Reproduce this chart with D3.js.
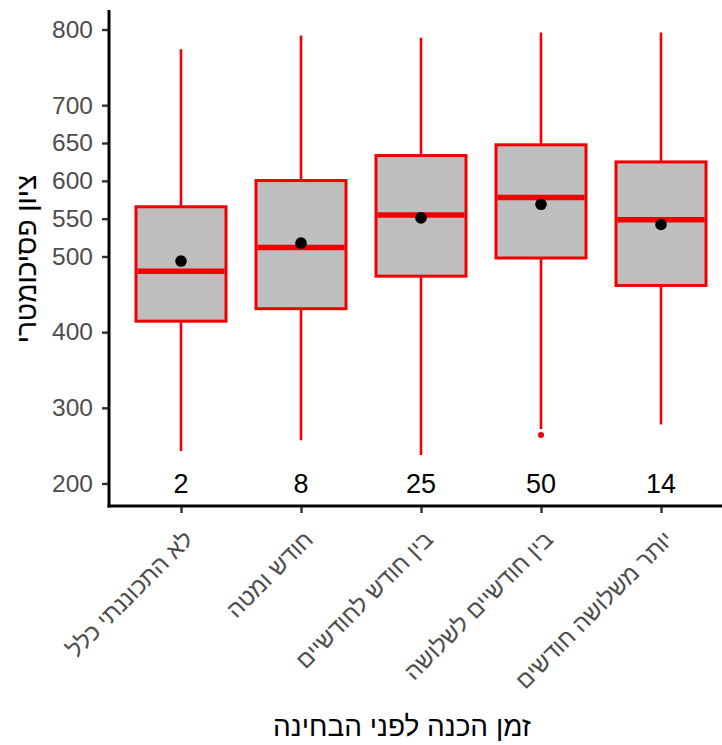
<!DOCTYPE html>
<html>
<head>
<meta charset="utf-8">
<script src="https://cdn.jsdelivr.net/npm/d3@7"></script>
<style>
  html, body { margin: 0; padding: 0; background: #fff; }
  svg { display: block; font-family: "Liberation Sans", Arial, sans-serif; }
</style>
</head>
<body>
<svg id="chart" width="722" height="745"></svg>
<script>
// ---- data ----
const categories = ["לא התכוננתי כלל", "חודש ומטה", "בין חודש לחודשיים", "בין חודשיים לשלושה", "יותר משלושה חודשים"];
const counts = [2, 8, 25, 50, 14];
const whiskerLow = [243, 257, 237.5, 272, 278];
const q1 = [414.5, 431, 474, 498, 461.7];
const medians = [480.6, 512, 555, 578, 548.4];
const q3 = [565.7, 600.4, 633.4, 647.6, 625];
const whiskerHigh = [774, 792, 789, 796, 796];
const means = [494, 517.6, 551, 569, 542.3];
const outliers = [[], [], [], [264], []];
const yTicks = [200, 300, 400, 500, 550, 600, 650, 700, 800];
const countLabelY = 200;
const yTitle = "ציון פסיכומטרי";
const xTitle = "זמן הכנה לפני הבחינה";

// ---- layout ----
const svg = d3.select("#chart");
const panel = { left: 109, right: 733, top: 10, bottom: 506 };

const lo = Math.min(countLabelY, d3.min(whiskerLow));
const hi = d3.max(whiskerHigh);
const pad = (hi - lo) * 0.05;
const y = d3.scaleLinear().domain([lo - pad, hi + pad]).range([panel.bottom, panel.top]);
const x = d3.scaleLinear().domain([0.4, categories.length + 0.6]).range([panel.left, panel.right]);
const half = 0.375;

const boxes = categories.map((c, i) => ({
  c, i: i + 1, n: counts[i], lo: whiskerLow[i], q1: q1[i], med: medians[i],
  q3: q3[i], hi: whiskerHigh[i], mean: means[i], out: outliers[i]
}));

const red = "#f00000";
const g = svg.append("g");

// whiskers
g.selectAll(".wh").data(boxes).enter().append("line")
  .attr("x1", d => x(d.i)).attr("x2", d => x(d.i))
  .attr("y1", d => y(d.lo)).attr("y2", d => y(d.hi))
  .attr("stroke", red).attr("stroke-width", 2.6);

// boxes
g.selectAll(".box").data(boxes).enter().append("rect")
  .attr("x", d => x(d.i - half)).attr("width", d => x(d.i + half) - x(d.i - half))
  .attr("y", d => y(d.q3)).attr("height", d => y(d.q1) - y(d.q3))
  .attr("fill", "#bebebe").attr("stroke", red).attr("stroke-width", 3);

// medians
g.selectAll(".med").data(boxes).enter().append("line")
  .attr("x1", d => x(d.i - half) + 1.5).attr("x2", d => x(d.i + half) - 1.5)
  .attr("y1", d => y(d.med)).attr("y2", d => y(d.med))
  .attr("stroke", red).attr("stroke-width", 5.5);

// outliers
boxes.forEach(d => {
  g.selectAll(null).data(d.out).enter().append("circle")
    .attr("cx", x(d.i)).attr("cy", v => y(v)).attr("r", 3)
    .attr("fill", red);
});

// means
g.selectAll(".mean").data(boxes).enter().append("circle")
  .attr("cx", d => x(d.i)).attr("cy", d => y(d.mean)).attr("r", 5.8)
  .attr("fill", "#000");

// counts
g.selectAll(".cnt").data(boxes).enter().append("text")
  .attr("x", d => x(d.i)).attr("y", y(countLabelY)).attr("dy", "0.36em")
  .attr("text-anchor", "middle").attr("font-size", 27).attr("fill", "#000")
  .text(d => d.n);

// y axis
const yAxis = svg.append("g").attr("transform", `translate(${panel.left},0)`)
  .call(d3.axisLeft(y).tickValues(yTicks).tickSize(7).tickPadding(9).tickFormat(d3.format("d")));
yAxis.select(".domain").remove();
yAxis.selectAll(".tick line").attr("stroke", "#333").attr("stroke-width", 2.4);
yAxis.selectAll(".tick text").attr("font-size", 24.5).attr("fill", "#4d4d4d")
  .attr("font-family", "Liberation Sans, Arial, sans-serif");

// x axis
const xAxis = svg.append("g").attr("transform", `translate(0,${panel.bottom})`)
  .call(d3.axisBottom(x).tickValues(d3.range(1, categories.length + 1)).tickSize(7)
    .tickFormat(i => categories[i - 1]));
xAxis.select(".domain").remove();
xAxis.selectAll(".tick line").attr("stroke", "#333").attr("stroke-width", 2.4);
xAxis.selectAll(".tick text")
  .attr("font-size", 23.5).attr("fill", "#4d4d4d")
  .attr("font-family", "Liberation Sans, Arial, sans-serif")
  .attr("text-anchor", "end").attr("x", 0).attr("y", 0).attr("dy", 0)
  .attr("transform", "translate(13,35) rotate(-45)");

// axis lines
svg.append("line").attr("x1", panel.left).attr("x2", panel.left)
  .attr("y1", panel.top).attr("y2", panel.bottom + 1.5)
  .attr("stroke", "#000").attr("stroke-width", 3);
svg.append("line").attr("x1", panel.left - 1.5).attr("x2", panel.right)
  .attr("y1", panel.bottom).attr("y2", panel.bottom)
  .attr("stroke", "#000").attr("stroke-width", 3);

// titles
svg.append("text").attr("transform", `translate(36,${(panel.top + panel.bottom) / 2 + 1}) rotate(-90)`)
  .attr("text-anchor", "middle").attr("font-size", 28).attr("fill", "#000")
  .text(yTitle);
svg.append("text").attr("x", 402).attr("y", 736)
  .attr("text-anchor", "middle").attr("font-size", 28).attr("fill", "#000")
  .text(xTitle);
</script>
</body>
</html>
